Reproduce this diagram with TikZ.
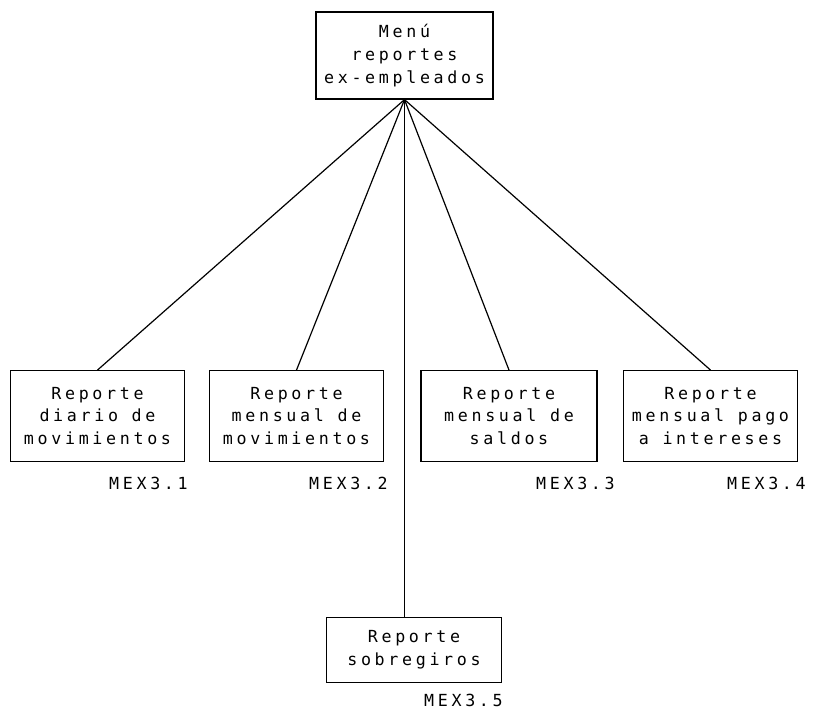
\documentclass[tikz,border=0pt]{standalone}
\usepackage{fontspec}
\newfontfamily\dotfont[LetterSpace=22]{DejaVu Sans Mono}
\usepackage{tikz}

\begin{document}
\begin{tikzpicture}[x=0.75pt,y=0.75pt,yscale=-1,xscale=1,
  box/.style={draw, line width=0.9pt, minimum width=130pt, minimum height=68pt, inner sep=0pt, align=center, font=\dotfont\fontsize{12.5}{17}\selectfont},
  code/.style={anchor=east, inner sep=0pt, font=\dotfont\fontsize{12.5}{17}\selectfont},
  link/.style={line width=0.9pt}]
\useasboundingbox (0,0) rectangle (819,712);

% Boxes
\node [box, minimum width=132.75pt, minimum height=65.25pt] (menu) at (404.5,55.5) {Menú\\reportes\\ex-empleados};
\node [box] (r1) at (97.5,416) {Reporte\\diario de\\movimientos};
\node [box] (r2) at (296.5,416) {Reporte\\mensual de\\movimientos};
\node [box, minimum width=132pt] (r3) at (509,416) {Reporte\\mensual de\\saldos};
\node [box] (r4) at (710.5,416) {Reporte\\mensual pago\\a intereses};
\node [box, minimum width=131pt, minimum height=49pt] (r5) at (414,650) {Reporte\\sobregiros};

% Codes
\node [code] (c1) at (188,483) {MEX3.1};
\node [code] (c2) at (388,483) {MEX3.2};
\node [code] (c3) at (615,483) {MEX3.3};
\node [code] (c4) at (806,483) {MEX3.4};
\node [code] (c5) at (503,700) {MEX3.5};

%Straight Lines
\draw [link] (menu.south) -- (r1.north);
\draw [link] (menu.south) -- (r2.north);
\draw [link] (menu.south) -- (r3.north);
\draw [link] (menu.south) -- (r4.north);
\draw [link] (menu.south) -- (menu.south |- r5.north);

\end{tikzpicture}
\end{document}
